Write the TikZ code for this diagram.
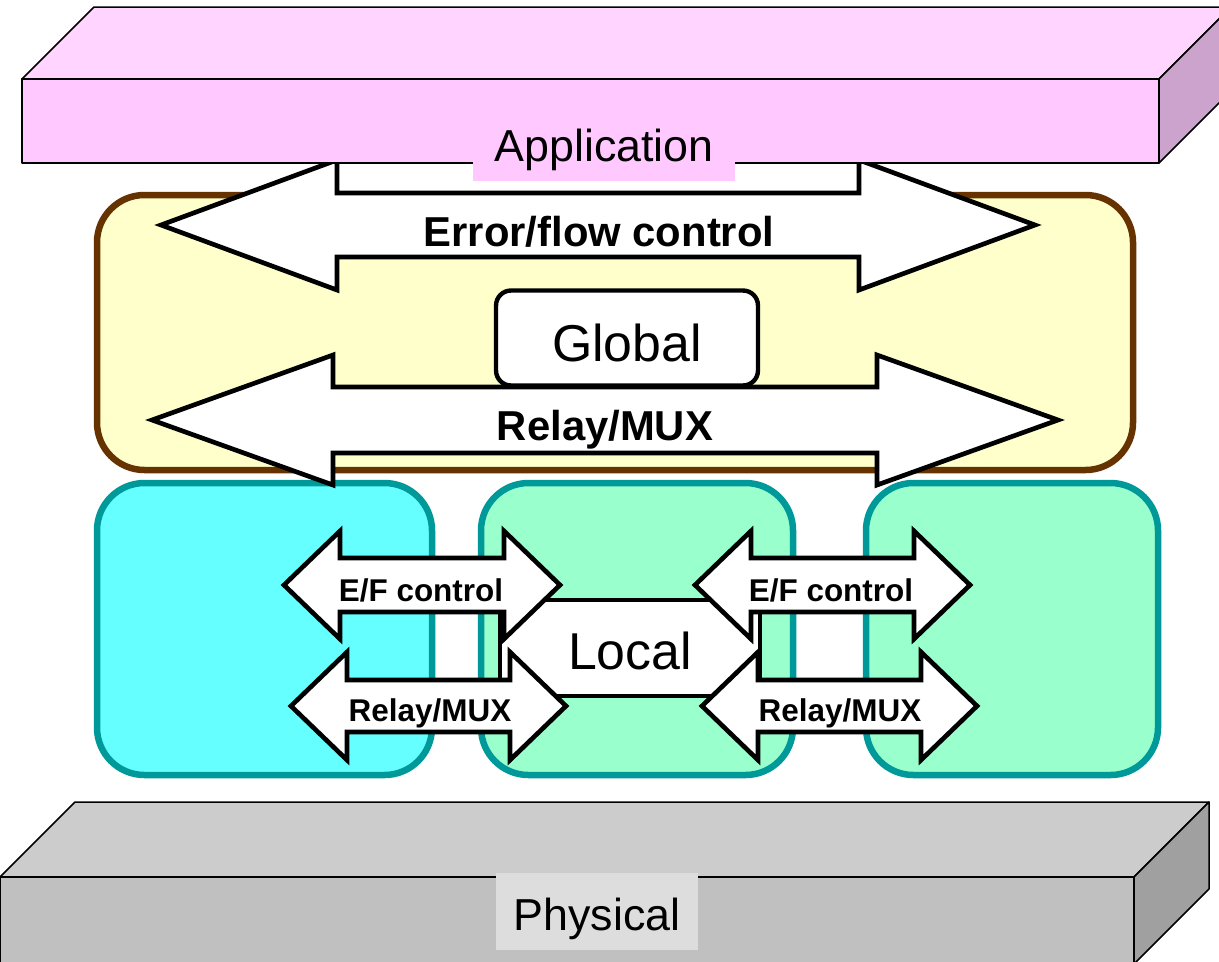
\documentclass[tikz,border=0pt]{standalone}
\usepackage{fontspec}
\setmainfont{Liberation Sans}
\usepackage{tikz}
\usetikzlibrary{positioning}
\usepackage{xcolor}
\definecolor{apptop}{HTML}{FFD5FF}
\definecolor{appfront}{HTML}{FFC8FF}
\definecolor{appside}{HTML}{CCA3CC}
\definecolor{phytop}{HTML}{CCCCCC}
\definecolor{phyfront}{HTML}{C0C0C0}
\definecolor{physide}{HTML}{A0A0A0}
\definecolor{phylabel}{HTML}{DDDDDD}
\definecolor{globalfill}{HTML}{FFFFCC}
\definecolor{globalline}{HTML}{663300}
\definecolor{localline}{HTML}{009999}
\definecolor{localcyan}{HTML}{66FFFF}
\definecolor{localgreen}{HTML}{99FFCC}

% double block arrow: left tip x, right tip x, mid y, head length, head half, shaft half, style
\newcommand{\dblarrow}[7]{%
  \filldraw[#7] (#1,#3) -- ++(#4,-#5) -- ++(0,#5-#6) -- (#2-#4,#3-#6) -- ++(0,#6-#5) -- (#2,#3)
    -- ++(-#4,#5) -- ++(0,#6-#5) -- (#1+#4,#3+#6) -- ++(0,#5-#6) -- cycle;}

\begin{document}
\begin{tikzpicture}[x=0.02cm,y=-0.02cm,
  slab/.style={draw=black,line width=0.85pt,line join=round},
  tray/.style={line width=3.7pt,rounded corners=0.95cm},
  block/.style={draw=black,fill=white,line width=2.65pt,miter limit=20},
  bigtext/.style={font=\bfseries\fontsize{23.8}{28}\selectfont},
  smalltext/.style={font=\bfseries\fontsize{17.9}{21}\selectfont},
  layertext/.style={font=\fontsize{25.5}{30}\selectfont,inner xsep=0pt,inner ysep=0pt,text depth=0.4cm},
  boxtext/.style={draw=black,fill=white,font=\fontsize{29.5}{34}\selectfont,line width=2.5pt,text depth=0pt}]
\useasboundingbox (0,0) rectangle (1219,961);
\clip (0,0) rectangle (1219,961);

% global sublayer and the three local networks
\draw[tray,draw=globalline,fill=globalfill] (97,195) rectangle (1133,470);
\draw[tray,draw=localline,fill=localcyan] (97,483) rectangle (432,775);
\draw[tray,draw=localline,fill=localgreen] (481,483) rectangle (793,775);
\draw[tray,draw=localline,fill=localgreen] (866,483) rectangle (1158,775);

\node[boxtext,rounded corners=0.3cm,minimum width=5.24cm,minimum height=1.9cm,text height=0.92cm] (global) at (627,338) {Global};
\node[boxtext,minimum width=5.2cm,minimum height=1.92cm,text height=0.84cm] (local) at (630,648) {Local};

% global arrows
\dblarrow{161}{1035}{225}{176}{65}{32}{block}
\dblarrow{152}{1058}{420}{181}{65}{33}{block}
\node[bigtext,anchor=base] (errflow) at (599,246) {Error/flow control};
\node[bigtext,anchor=base] (relay) at (605,440) {Relay/MUX};

% local arrows
\dblarrow{284}{560}{585}{56}{54}{27}{block}
\dblarrow{291}{566}{706}{56}{54}{26}{block}
\dblarrow{695}{970}{585}{56}{54}{27}{block}
\dblarrow{702}{977}{706}{56}{54}{26}{block}
\node[smalltext,anchor=base] (efleft) at (421,601) {E/F control};
\node[smalltext,anchor=base] (relayleft) at (430,721) {Relay/MUX};
\node[smalltext,anchor=base] (efright) at (831,601) {E/F control};
\node[smalltext,anchor=base] (relayright) at (840,721) {Relay/MUX};

% application slab
\filldraw[slab,fill=apptop] (22,79) -- (94,7) -- (1231,7) -- (1159,79) -- cycle;
\filldraw[slab,fill=appside] (1159,79) -- (1231,7) -- (1231,91) -- (1159,163) -- cycle;
\filldraw[slab,fill=appfront] (22,79) rectangle (1159,163);
\node[layertext,anchor=base,fill=appfront,minimum width=5.24cm,text height=0.9cm] (app) at (604,161) {Application};

% physical slab
\filldraw[slab,fill=phytop] (0,877) -- (75,802) -- (1209,802) -- (1134,877) -- cycle;
\filldraw[slab,fill=physide] (1134,877) -- (1209,802) -- (1209,889) -- (1134,964) -- cycle;
\filldraw[slab,fill=phyfront] (0,877) rectangle (1134,964);
\node[layertext,anchor=base,fill=phylabel,minimum width=4.06cm,text height=1.14cm] (phy) at (597,930) {Physical};
\end{tikzpicture}
\end{document}
